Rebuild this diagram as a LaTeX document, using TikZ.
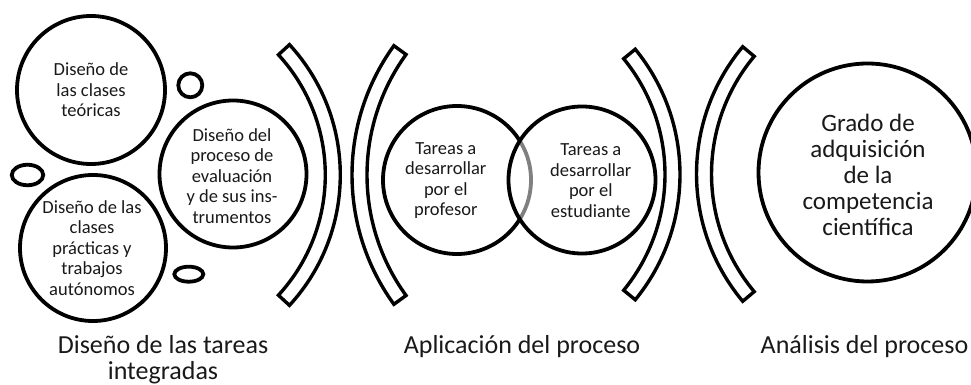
\documentclass[tikz,border=0pt]{standalone}
\usepackage{fontspec}
\setmainfont{Carlito}
\newcommand\bandarc[5]{%
  \pgfmathsetmacro\bandRi{#3-7.5}%
  \pgfmathsetmacro\bandRo{#3+7.5}%
  \draw[band,shift={(#1,#2)}] (#4:\bandRi) arc[start angle=#4,end angle=#5,radius=\bandRi]
    -- (#5:\bandRo) arc[start angle=#5,end angle=#4,radius=\bandRo] -- cycle;}
\begin{document}
\begin{tikzpicture}[x=1pt,y=1pt,
  ring/.style={draw=black,line width=3.8pt,circle,inner sep=0pt,minimum size=#1},
  ring/.default=148pt,
  oval/.style={draw=black,line width=3.8pt},
  band/.style={draw=black,line width=3.4pt,line join=miter,fill=white},
  txt/.style={align=center,text=black!90,font=\fontsize{18.5}{20.5}\selectfont,inner sep=0pt},
  big/.style={align=center,text=black!90,font=\fontsize{25}{26}\selectfont,inner sep=0pt},
  caption/.style={align=center,text=black!90,font=\fontsize{26}{26}\selectfont,inner sep=0pt,anchor=base},
]
\useasboundingbox (0,0) rectangle (971,385);
% --- Diseño de las tareas integradas
\node[ring=148pt] (c1) at (91,295) {};
\node[txt] (t1) at (91,295) {Diseño de\\las clases\\teóricas};
\node[ring=146pt] (c3) at (93,137) {};
\node[txt] (t3) at (92,137) {Diseño de las\\clases\\prácticas y\\trabajos\\autónomos};
\node[ring=147pt] (c2) at (233,211) {};
\node[txt] (t2) at (232,209) {Diseño del\\proceso de\\evaluación\\y de sus ins-\\trumentos};
\node[ring=24pt] (s1) at (190.3,299.7) {};
\draw[oval] (27.5,210) ellipse[x radius=15.75,y radius=10.25];
\draw[oval] (188.8,110.8) ellipse[x radius=14.5,y radius=7.5];
% --- brackets
\bandarc{147.7}{210}{185.1}{-42.6}{42.6}
\bandarc{572.5}{210}{213}{144.1}{215.9}
\bandarc{482.2}{210.5}{190.3}{-39.3}{39.3}
\bandarc{894.9}{211}{190.9}{140.1}{219.9}
% --- Aplicación del proceso
\node[ring=148pt] (p) at (457,205) {};
\node[ring=147pt,fill=white,fill opacity=0.5] (e) at (582,205) {};
\node[txt] (tp) at (445.8,204.5) {Tareas a\\desarrollar\\por el\\profesor};
\node[txt] (te) at (590.8,204.5) {Tareas a\\desarrollar\\por el\\estudiante};
% --- Análisis del proceso
\node[ring=218pt] (g) at (867.5,212.5) {};
\node[big] (tg) at (868,210.5) {Grado de\\adquisición\\de la\\competencia\\científica};
% --- captions
\node[caption] (l1) at (163,5) {Diseño de las tareas\\integradas};
\node[caption] (l2) at (522,31) {Aplicación del proceso};
\node[caption] (l3) at (864.5,31) {Análisis del proceso};
\end{tikzpicture}
\end{document}
